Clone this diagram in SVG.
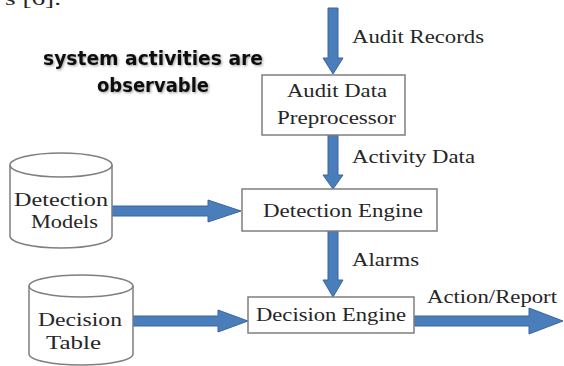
<svg xmlns="http://www.w3.org/2000/svg" width="564" height="366" viewBox="0 0 564 366">
<style>
.bg{fill:#ffffff}
.box{fill:#ffffff;stroke:#7f7f7f;stroke-width:1.5}
.cyl{fill:#ffffff;stroke:#7f7f7f;stroke-width:1.5}
.t{font-family:"Liberation Serif","Times New Roman",serif;font-size:18px;fill:#262626}
.c{font-family:"DejaVu Sans","Open Sans",sans-serif;font-size:19px;font-weight:bold;fill:#111111}
.arr{fill:#4a7ebb;stroke:#3b65a0;stroke-width:1}
</style>
<defs>
<filter id="sh" x="-10%" y="-30%" width="120%" height="160%">
<feDropShadow dx="1.2" dy="1.2" stdDeviation="1" flood-color="#000000" flood-opacity="0.35"/>
</filter>
</defs>
<rect class="bg" x="0" y="0" width="564" height="366"/>
<text class="t" x="5" y="5" font-size="20" textLength="56" lengthAdjust="spacingAndGlyphs">s [6].</text>
<g id="note" filter="url(#sh)">
<text class="c" x="43" y="65" textLength="220" lengthAdjust="spacingAndGlyphs">system activities are</text>
<text class="c" x="97" y="92" textLength="112" lengthAdjust="spacingAndGlyphs">observable</text>
</g>
<g id="connectors">
<polygon class="arr" points="328,8 338,8 338,58 343,58 333,74 323,58 328,58"/>
<polygon class="arr" points="328,135 338,135 338,175 343,175 333,189 323,175 328,175"/>
<polygon class="arr" points="328,231 338,231 338,280 343,280 333,297 323,280 328,280"/>
<polygon class="arr" points="112,206 208,206 208,200 241,211 208,222 208,216 112,216"/>
<polygon class="arr" points="133,316 218,316 218,310 248,321 218,332 218,326 133,326"/>
<polygon class="arr" points="414,316 529,316 529,308 563,321 529,334 529,326 414,326"/>
<text class="t" x="352" y="43" textLength="132" lengthAdjust="spacingAndGlyphs">Audit Records</text>
<text class="t" x="352" y="163" textLength="123" lengthAdjust="spacingAndGlyphs">Activity Data</text>
<text class="t" x="352" y="266" textLength="67" lengthAdjust="spacingAndGlyphs">Alarms</text>
<text class="t" x="427" y="303" textLength="130" lengthAdjust="spacingAndGlyphs">Action/Report</text>
</g>
<g id="preprocessor">
<rect class="box" x="262" y="75" width="143" height="60"/>
<text class="t" x="287" y="97" textLength="100" lengthAdjust="spacingAndGlyphs">Audit Data</text>
<text class="t" x="277" y="124" textLength="119" lengthAdjust="spacingAndGlyphs">Preprocessor</text>
</g>
<g id="detection-engine">
<rect class="box" x="242" y="189" width="195" height="42"/>
<text class="t" x="263" y="217" textLength="160" lengthAdjust="spacingAndGlyphs">Detection Engine</text>
</g>
<g id="decision-engine">
<rect class="box" x="248" y="297" width="166" height="36"/>
<text class="t" x="256" y="321" textLength="150" lengthAdjust="spacingAndGlyphs">Decision Engine</text>
</g>
<g id="detection-models">
<path class="cyl" d="M10,165 L10,236 A51,12 0 0 0 112,236 L112,165 A51,12 0 0 0 10,165 Z"/>
<path class="cyl" d="M10,165 A51,12 0 0 0 112,165" fill="none"/>
<text class="t" x="14" y="206" textLength="94" lengthAdjust="spacingAndGlyphs">Detection</text>
<text class="t" x="31" y="228" textLength="67" lengthAdjust="spacingAndGlyphs">Models</text>
</g>
<g id="decision-table">
<path class="cyl" d="M29,286 L29,354 A52,11 0 0 0 133,354 L133,286 A52,11 0 0 0 29,286 Z"/>
<path class="cyl" d="M29,286 A52,11 0 0 0 133,286" fill="none"/>
<text class="t" x="38" y="326" textLength="84" lengthAdjust="spacingAndGlyphs">Decision</text>
<text class="t" x="46" y="349" textLength="55" lengthAdjust="spacingAndGlyphs">Table</text>
</g>
</svg>
